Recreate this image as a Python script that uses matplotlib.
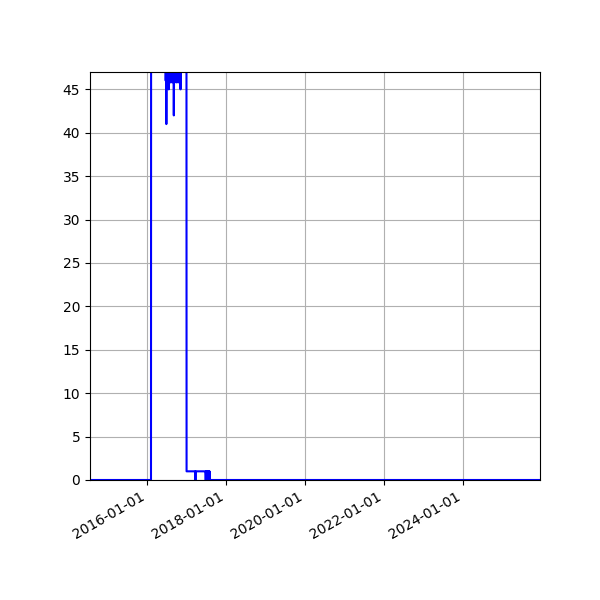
import matplotlib
matplotlib.use("Agg")
import matplotlib.pyplot as plt
import matplotlib.dates as mdates
from matplotlib.ticker import MultipleLocator
import pandas as pd

# readings over time (values above 47 run off the top of the chart)
dates = [
    "2014-07-20", "2016-02-09", "2016-02-10", "2016-06-21", "2016-06-24",
    "2016-06-27", "2016-06-30", "2016-07-03", "2016-07-07", "2016-07-11",
    "2016-07-15", "2016-07-19", "2016-07-22", "2016-07-26", "2016-07-30",
    "2016-08-03", "2016-08-07", "2016-08-11", "2016-08-15", "2016-08-19",
    "2016-08-23", "2016-08-27", "2016-08-31", "2016-09-04", "2016-09-07",
    "2016-09-10", "2016-09-14", "2016-09-18", "2016-09-22", "2016-09-26",
    "2016-09-30", "2016-10-04", "2016-10-08", "2016-10-12", "2016-10-17",
    "2016-10-21", "2016-10-26", "2016-11-01", "2016-11-08", "2016-11-12",
    "2017-01-02", "2017-01-03", "2017-03-25", "2017-03-26", "2017-03-27",
    "2017-06-27", "2017-06-29", "2017-07-01", "2017-07-03", "2017-07-05",
    "2017-07-07", "2017-07-09", "2017-07-11", "2017-07-13", "2017-07-15",
    "2017-07-22", "2017-07-24", "2017-07-26", "2017-07-28", "2017-07-30",
    "2017-08-01", "2017-08-03", "2017-08-05", "2017-08-06", "2025-12-31",
]
values = [
    0, 0, 55, 52, 46,
    49, 41, 48, 46, 48,
    46, 49, 45, 48, 46,
    48, 45.8, 49, 46, 48,
    45.8, 48, 46, 49, 42,
    48, 46, 48, 46, 49,
    45.8, 48, 46, 49, 45.8,
    49, 46.5, 50, 45, 50,
    52, 1, 1, 0, 1,
    1, 0, 1, 0, 1,
    0, 1, 0, 1, 0,
    1, 0, 1, 0, 1,
    0, 1, 0, 0, 0,
]

df = pd.DataFrame({"date": pd.to_datetime(dates), "value": values})

fig, ax = plt.subplots(figsize=(6, 6), dpi=100)
ax.plot(df["date"], df["value"], "b-")
ax.set_ylim(0, 47)
ax.set_xlim(pd.Timestamp("2014-07-25"), pd.Timestamp("2025-12-15"))
ax.yaxis.set_major_locator(MultipleLocator(5))
ax.xaxis.set_major_locator(mdates.YearLocator(2))
ax.xaxis.set_major_formatter(mdates.DateFormatter("%Y-%m-%d"))
ax.grid()
fig.autofmt_xdate()
fig.subplots_adjust(left=0.15, right=0.9, top=0.88, bottom=0.2)
fig.savefig("out.png")
